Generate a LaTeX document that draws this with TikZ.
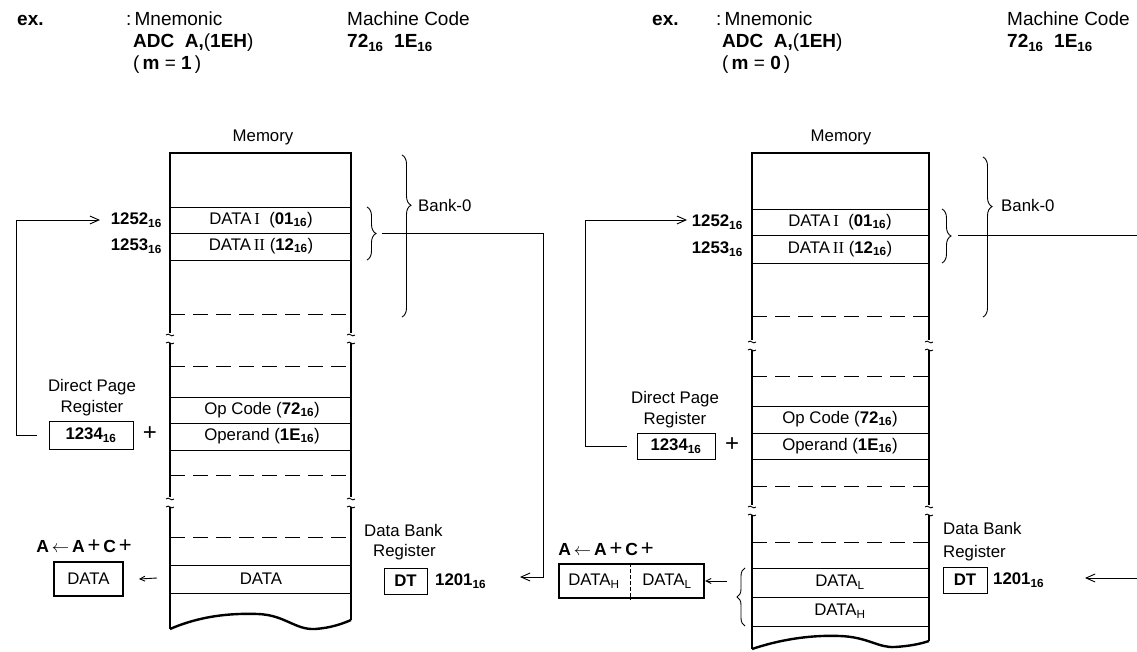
\documentclass[tikz,border=0pt]{standalone}
\usepackage{fontspec}
\setmainfont{Liberation Sans}
\newfontfamily\serifrm{Liberation Serif}
\usetikzlibrary{arrows.meta,decorations.pathreplacing}
\tikzset{
  brkmark/.pic={
    \draw[line width=0.9pt] (-4,-3) .. controls (-1,-6) and (1,0) .. (4,-3);
    \draw[line width=0.9pt] (-4,5) .. controls (-1,2) and (1,8) .. (4,5);
  }
}
\newcommand{\sixteen}{\textsubscript{\textbf{16}}}
\newcommand{\accexpr}{A\,$\leftarrow$\,A\,{\mdseries\fontsize{22}{22}\selectfont+}\,C\,{\mdseries\fontsize{22}{22}\selectfont+}}
\begin{document}
\begin{tikzpicture}[x=1pt,y=-1pt,
  txt/.style={inner sep=0pt, font=\fontsize{16.8}{19}\selectfont},
  btxt/.style={inner sep=0pt, font=\fontsize{16.8}{19}\selectfont\bfseries},
  head/.style={inner sep=0pt, anchor=base west, font=\fontsize{19}{22}\selectfont},
  bhead/.style={inner sep=0pt, anchor=base west, font=\fontsize{19}{22}\selectfont\bfseries},
  regbox/.style={draw, line width=0.9pt, inner sep=0pt},
  accbox/.style={draw, line width=2.4pt, inner sep=0pt},
  memwall/.style={line width=2.4pt},
  rowline/.style={line width=0.9pt},
  rowdash/.style={line width=0.9pt, dash pattern=on 15pt off 8pt},
  conn/.style={line width=0.9pt},
  barb/.style={-{Straight Barb[length=9pt,width=8pt,line width=0.9pt]}},
  sbarb/.style={-{Straight Barb[length=5pt,width=5pt,line width=0.9pt]}},
  plus/.style={inner sep=0pt, font=\fontsize{24}{24}\selectfont},
]
\useasboundingbox (0,0) rectangle (1137,652);

% ================= LEFT PANEL =================
\node[bhead] (exL) at (17,26) {ex.};
\node[head] (mnL) at (126,26) {:\,Mnemonic};
\node[bhead] (adcL) at (133,48) {ADC\ \ A,\mdseries(\bfseries 1EH\mdseries)};
\node[head] (mL) at (133,70) {(\,\textbf{m} = \textbf{1}\,)};
\node[head] (mcL) at (347,26) {Machine Code};
\node[bhead] (codeL) at (347,48) {72\textsubscript{16}\ \ 1E\textsubscript{16}};

\node[txt] (memL) at (263,137) {Memory};

% memory column
\draw[memwall] (170,333) -- (170,153) -- (351,153) -- (351,333);
\draw[memwall] (170,343) -- (170,497) (351,343) -- (351,497);
\draw[memwall] (170,507) -- (170,629) (351,507) -- (351,620);
\draw[memwall] (170,629) .. controls (200,616) and (230,613) .. (258,614)
  .. controls (285,615) and (295,630) .. (315,629)
  .. controls (330,628) and (342,624) .. (351,620);
\pic at (170,338) {brkmark};
\pic at (351,338) {brkmark};
\pic at (170,502) {brkmark};
\pic at (351,502) {brkmark};
\foreach \yy in {207,233,260,397,423,450,565,593}
  \draw[rowline] (170,\yy) -- (351,\yy);
\foreach \yy in {314,366,475,537}
  \draw[rowdash] (170,\yy) -- (351,\yy);

\node[txt] (d1L) at (261,220) {DATA\,{\serifrm I}\ \ (\textbf{01}\sixteen)};
\node[txt] (d2L) at (261,246) {DATA\,{\serifrm II}\ (\textbf{12}\sixteen)};
\node[txt] (opL) at (262,410) {Op Code (\textbf{72}\sixteen)};
\node[txt] (oprL) at (262,436) {Operand (\textbf{1E}\sixteen)};
\node[txt] (dataL) at (261,579) {DATA};

\node[btxt, anchor=east] (a1L) at (162,220) {1252\sixteen};
\node[btxt, anchor=east] (a2L) at (162,246) {1253\sixteen};

% direct page register
\node[txt] (dp1L) at (92,387) {Direct Page};
\node[txt] (dp2L) at (92,408) {Register};
\node[regbox, btxt, minimum width=84pt, minimum height=28pt] (dprL) at (91,435) {1234\sixteen};
\node[plus] (plL) at (150,434) {+};

\coordinate (fbL) at (16,435);
\coordinate (fbtL) at (100,220);
\draw[conn, barb] ([xshift=-12pt]dprL.west) -- (fbL) |- (fbtL);

% braces
\draw[line width=0.9pt, decorate, decoration={brace, amplitude=9pt, aspect=0.5}] (367,207) -- (367,260);
\draw[line width=0.9pt, decorate, decoration={brace, amplitude=9pt, aspect=0.31}] (402,155) -- (402,317);
\node[txt, anchor=west] (bankL) at (418,205) {Bank-0};

% accumulator
\node[btxt, font=\fontsize{17.5}{20}\selectfont\bfseries] (accexL) at (84,546) {\accexpr};
\node[accbox, txt, minimum width=69pt, minimum height=34pt] (accL) at (88.5,579) {DATA};
\coordinate (accsL) at (157,578);
\draw[conn, sbarb] (accsL) -- (accL.east -| 139,0);

% data bank register
\node[txt, anchor=west] (db1L) at (364,530) {Data Bank};
\node[txt, anchor=west] (db2L) at (373,552) {Register};
\node[regbox, btxt, minimum width=43pt, minimum height=26pt] (dtL) at (405.5,581) {DT};
\node[btxt, anchor=west] (dtvL) at (435,581) {1201\sixteen};

\coordinate (lnsL) at (382,233);
\coordinate (lncL) at (543,233);
\coordinate (lntL) at (520,577);
\draw[conn, barb] (lnsL) -- (lncL) |- (lntL);

% ================= RIGHT PANEL =================
\node[bhead] (exR) at (652,26) {ex.};
\node[head] (mnR) at (716,26) {:\,Mnemonic};
\node[bhead] (adcR) at (722,48) {ADC\ \ A,\mdseries(\bfseries 1EH\mdseries)};
\node[head] (mR) at (722,70) {(\,\textbf{m} = \textbf{0}\,)};
\node[head] (mcR) at (1007,26) {Machine Code};
\node[bhead] (codeR) at (1007,48) {72\textsubscript{16}\ \ 1E\textsubscript{16}};

\node[txt] (memR) at (841,137) {Memory};

\draw[memwall] (752,340) -- (752,153) -- (929,153) -- (929,340);
\draw[memwall] (752,350) -- (752,505) (929,350) -- (929,505);
\draw[memwall] (752,515) -- (752,649) (929,515) -- (929,641);
\draw[memwall] (752,649) .. controls (785,638) and (815,635) .. (840,636)
  .. controls (868,637) and (878,648) .. (895,647)
  .. controls (910,646) and (920,644) .. (929,641);
\pic at (752,345) {brkmark};
\pic at (929,345) {brkmark};
\pic at (752,510) {brkmark};
\pic at (929,510) {brkmark};
\foreach \yy in {209,235,263,406,433,459,568,597,626}
  \draw[rowline] (752,\yy) -- (929,\yy);
\foreach \yy in {316,376,486,542}
  \draw[rowdash] (752,\yy) -- (929,\yy);

\node[txt] (d1R) at (840,222) {DATA\,{\serifrm I}\ \ (\textbf{01}\sixteen)};
\node[txt] (d2R) at (840,249) {DATA\,{\serifrm II}\ (\textbf{12}\sixteen)};
\node[txt] (opR) at (840,419) {Op Code (\textbf{72}\sixteen)};
\node[txt] (oprR) at (840,446) {Operand (\textbf{1E}\sixteen)};
\node[txt] (dlR) at (840,582) {DATA\textsubscript{L}};
\node[txt] (dhR) at (840,611) {DATA\textsubscript{H}};

\node[btxt, anchor=east] (a1R) at (743,222) {1252\sixteen};
\node[btxt, anchor=east] (a2R) at (743,249) {1253\sixteen};

\node[txt] (dp1R) at (675,399) {Direct Page};
\node[txt] (dp2R) at (675,420) {Register};
\node[regbox, btxt, minimum width=78pt, minimum height=26pt] (dprR) at (676,446) {1234\sixteen};
\node[plus] (plR) at (732,445) {+};

\coordinate (fbR) at (585,446);
\coordinate (fbtR) at (687,220);
\draw[conn, barb] ([xshift=-10pt]dprR.west) -- (fbR) |- (fbtR);

\draw[line width=0.9pt, decorate, decoration={brace, amplitude=9pt, aspect=0.5}] (942,209) -- (942,263);
\draw[line width=0.9pt, decorate, decoration={brace, amplitude=9pt, aspect=0.31}] (983,157) -- (983,317);
\node[txt, anchor=west] (bankR) at (1001,205) {Bank-0};

\coordinate (lnsR) at (958,235);
\coordinate (lneR) at (1137,235);
\draw[conn] (lnsR) -- (lneR);

% accumulator (16-bit)
\node[btxt, font=\fontsize{17.5}{20}\selectfont\bfseries] (accexR) at (606,549) {\accexpr};
\node[accbox, minimum width=145pt, minimum height=34pt] (accR) at (631.5,581) {};
\node[txt] (acchR) at (594,581) {DATA\textsubscript{H}};
\node[txt] (acclR) at (667,581) {DATA\textsubscript{L}};
\draw[line width=0.7pt, dash pattern=on 4pt off 2pt] (accR.north -| 630,0) -- (accR.south -| 630,0);
\draw[line width=0.9pt, decorate, decoration={brace, amplitude=8pt, aspect=0.5}] (745,626) -- (745,568);
\coordinate (accsR) at (727,581);
\draw[conn, sbarb] (accsR) -- (accR.east);

\node[txt, anchor=west] (db1R) at (943,528) {Data Bank};
\node[txt, anchor=west] (db2R) at (943,553) {Register};
\node[regbox, btxt, minimum width=44pt, minimum height=26pt] (dtR) at (965,580) {DT};
\node[btxt, anchor=west] (dtvR) at (993,580) {1201\sixteen};

\coordinate (lnrR) at (1137,578);
\coordinate (lntR) at (1085,578);
\draw[conn, barb] (lnrR) -- (lntR);
\end{tikzpicture}
\end{document}
